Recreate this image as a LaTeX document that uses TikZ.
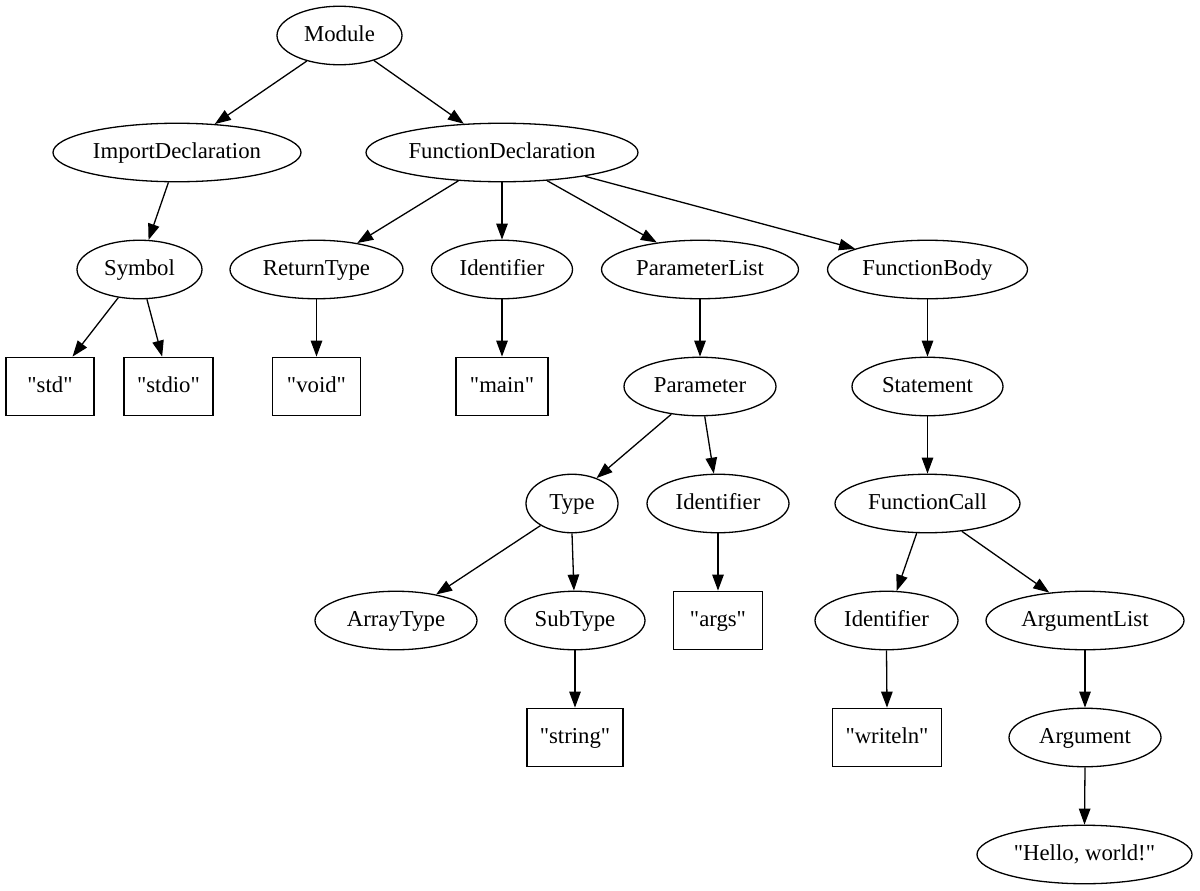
\documentclass[tikz,border=0pt]{standalone}
\usepackage{fontspec}
\setmainfont{Liberation Serif}[Ligatures=TeXOff]
\usetikzlibrary{arrows.meta,shapes.geometric}
\begin{document}
\begin{tikzpicture}[x=1pt,y=-1pt,
  every node/.style={font=\fontsize{22.75}{27}\selectfont, inner sep=0pt, text height=18pt, text depth=5.5pt, line width=1.3pt, draw=black},
  ell/.style={ellipse, minimum height=58.5pt},
  lit/.style={rectangle, minimum height=58.5pt},
  edge/.style={line width=1.3pt, -{Triangle[length=16pt,width=11.5pt]}}]
\useasboundingbox (0,0) rectangle (1200,891);
% rank 0
\node[ell, minimum width=125pt] (module) at (339.5,35.5) {Module};
% rank 1
\node[ell, minimum width=248pt] (imp) at (177,152.5) {ImportDeclaration};
\node[ell, minimum width=272pt] (fdecl) at (502,152.5) {FunctionDeclaration};
% rank 2
\node[ell, minimum width=125pt] (sym) at (139.5,269.5) {Symbol};
\node[ell, minimum width=173pt] (rtype) at (316.5,269.5) {ReturnType};
\node[ell, minimum width=141pt] (ident1) at (502,269.5) {Identifier};
\node[ell, minimum width=197pt] (plist) at (700,269.5) {ParameterList};
\node[ell, minimum width=200pt] (fbody) at (927.5,269.5) {FunctionBody};
% rank 3
\node[lit, minimum width=88pt] (std) at (50,386.5) {"std"};
\node[lit, minimum width=89pt] (stdio) at (168.5,386.5) {"stdio"};
\node[lit, minimum width=88pt] (void) at (316.5,386.5) {"void"};
\node[lit, minimum width=92pt] (main) at (502,386.5) {"main"};
\node[ell, minimum width=152pt] (param) at (700,386.5) {Parameter};
\node[ell, minimum width=151pt] (stmt) at (927.5,386.5) {Statement};
% rank 4
\node[ell, minimum width=92pt] (type) at (572,503.5) {Type};
\node[ell, minimum width=142pt] (ident2) at (718,503.5) {Identifier};
\node[ell, minimum width=185pt] (fcall) at (927.5,503.5) {FunctionCall};
% rank 5
\node[ell, minimum width=162pt] (arrt) at (396,620.5) {ArrayType};
\node[ell, minimum width=140pt] (subt) at (575,620.5) {SubType};
\node[lit, minimum width=89pt] (args) at (718,620.5) {"args"};
\node[ell, minimum width=143pt] (ident3) at (886.5,620.5) {Identifier};
\node[ell, minimum width=198pt] (alist) at (1085,620.5) {ArgumentList};
% rank 6
\node[lit, minimum width=96pt] (string) at (575,737.5) {"string"};
\node[lit, minimum width=109pt] (writeln) at (887,737.5) {"writeln"};
\node[ell, minimum width=152pt] (arg) at (1085,737.5) {Argument};
% rank 7
\node[ell, minimum width=215pt] (hello) at (1084.5,854.5) {"Hello, world!"};
% edges
\draw[edge] (module.218) -- (imp.37);
\draw[edge] (module.324) -- (fdecl.143);
\draw[edge] (imp.254) -- (sym.73);
\draw[edge] (sym.233) -- (std.53);
\draw[edge] (sym.284) -- (stdio.102);
\draw[edge] (fdecl.213.5) -- (rtype.33);
\draw[edge] (fdecl.south) -- (ident1.north);
\draw[edge] (fdecl.328) -- (plist.148.5);
\draw[edge] (fdecl.344) -- (fbody.164);
\draw[edge] (rtype.south) -- (void.north);
\draw[edge] (ident1.south) -- (main.north);
\draw[edge] (plist.south) -- (param.north);
\draw[edge] (fbody.south) -- (stmt.north);
\draw[edge] (param.224) -- (type.46);
\draw[edge] (param.279) -- (ident2.98);
\draw[edge] (stmt.south) -- (fcall.north);
\draw[edge] (type.215) -- (arrt.33);
\draw[edge] (type.270) -- (subt.92);
\draw[edge] (ident2.south) -- (args.north);
\draw[edge] (fcall.250) -- (ident3.71);
\draw[edge] (fcall.321.5) -- (alist.142);
\draw[edge] (subt.south) -- (string.north);
\draw[edge] (ident3.south) -- (writeln.north);
\draw[edge] (alist.south) -- (arg.north);
\draw[edge] (arg.south) -- (hello.north);
\end{tikzpicture}
\end{document}
